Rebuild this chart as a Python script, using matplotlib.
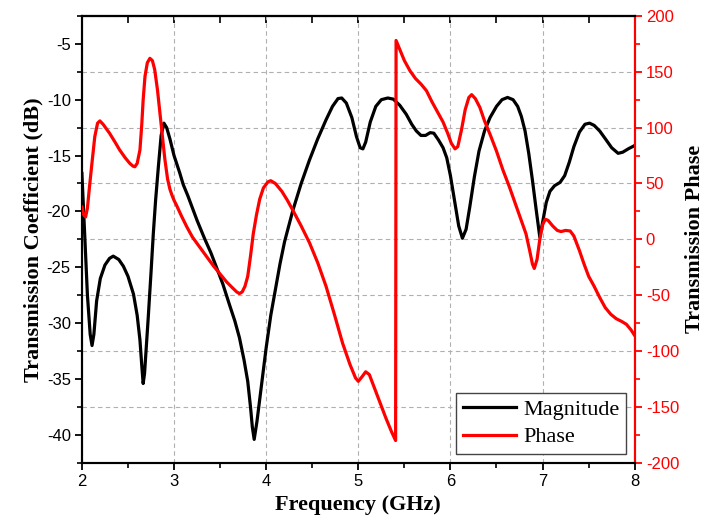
import numpy as np
import matplotlib
matplotlib.use("Agg")
import matplotlib.pyplot as plt
from matplotlib.ticker import MultipleLocator

plt.rcParams["axes.unicode_minus"] = False

# magnitude (dB)
freq_mag = [2.00, 2.03, 2.06, 2.09, 2.11, 2.13, 2.16, 2.20, 2.25, 2.30, 2.34, 2.40,
            2.45, 2.50, 2.56, 2.60, 2.63, 2.65, 2.665, 2.68, 2.70, 2.72, 2.75, 2.775,
            2.80, 2.83, 2.86, 2.89, 2.92, 2.955, 3.00, 3.06, 3.10, 3.15, 3.20, 3.25,
            3.33, 3.40, 3.47, 3.53, 3.60, 3.66, 3.71, 3.76, 3.80, 3.83, 3.85, 3.87,
            3.90, 3.95, 4.00, 4.05, 4.10, 4.15, 4.20, 4.29, 4.38, 4.47, 4.56, 4.65,
            4.72, 4.78, 4.82, 4.87, 4.93, 4.98, 5.02, 5.05, 5.08, 5.13, 5.19, 5.25,
            5.32, 5.38, 5.45, 5.52, 5.58, 5.63, 5.68, 5.73, 5.78, 5.82, 5.87, 5.92,
            5.96, 6.00, 6.05, 6.09, 6.13, 6.17, 6.21, 6.26, 6.31, 6.37, 6.43, 6.50,
            6.56, 6.62, 6.68, 6.73, 6.77, 6.81, 6.85, 6.89, 6.93, 6.97, 7.00, 7.04,
            7.08, 7.13, 7.19, 7.24, 7.29, 7.34, 7.40, 7.46, 7.51, 7.56, 7.62, 7.69,
            7.75, 7.82, 7.87, 7.93, 8.00]
magnitude = [-16.6, -22.0, -27.5, -31.0, -32.0, -31.0, -28.0, -26.0, -24.8, -24.2, -24.0, -24.3,
             -24.9, -25.8, -27.4, -29.3, -31.5, -33.8, -35.4, -34.5, -32.0, -29.5, -25.5, -22.0,
             -19.0, -16.0, -13.2, -12.1, -12.5, -13.5, -15.0, -16.5, -17.6, -18.6, -19.7, -20.8,
             -22.4, -23.7, -25.2, -26.5, -28.3, -29.8, -31.3, -33.3, -35.2, -37.5, -39.3, -40.4,
             -38.8, -35.5, -32.2, -29.3, -27.0, -24.7, -22.7, -19.9, -17.5, -15.4, -13.5, -11.8,
             -10.6, -9.9, -9.85, -10.3, -11.6, -13.3, -14.3, -14.4, -13.8, -12.0, -10.6, -10.0,
             -9.85, -9.95, -10.5, -11.3, -12.2, -12.8, -13.2, -13.2, -12.95, -13.0, -13.6, -14.3,
             -15.2, -16.8, -19.3, -21.3, -22.4, -21.6, -19.6, -16.9, -14.6, -12.8, -11.6, -10.6,
             -10.0, -9.8, -10.0, -10.6, -11.5, -12.8, -14.8, -17.2, -19.8, -22.3, -21.0, -19.2,
             -18.2, -17.7, -17.4, -16.8, -15.6, -14.2, -12.9, -12.2, -12.1, -12.3, -12.8, -13.6,
             -14.3, -14.8, -14.7, -14.4, -14.1]

# phase (deg)
freq_ph = [2.00, 2.02, 2.04, 2.06, 2.08, 2.105, 2.14, 2.17, 2.195, 2.23, 2.30, 2.36,
           2.41, 2.47, 2.52, 2.555, 2.575, 2.60, 2.63, 2.65, 2.665, 2.685, 2.71, 2.738,
           2.765, 2.79, 2.82, 2.846, 2.87, 2.90, 2.93, 2.955, 2.98, 3.00, 3.03, 3.08, 3.14,
           3.20, 3.27, 3.35, 3.43, 3.50, 3.57, 3.63, 3.68, 3.71, 3.74, 3.77, 3.80,
           3.83, 3.86, 3.895, 3.93, 3.97, 4.02, 4.05, 4.10, 4.17, 4.23, 4.29, 4.38,
           4.47, 4.56, 4.65, 4.74, 4.83, 4.91, 4.97, 5.00, 5.04, 5.08, 5.12, 5.18,
           5.23, 5.30, 5.36, 5.405, 5.41, 5.45, 5.50, 5.56, 5.62, 5.68, 5.74, 5.80,
           5.86, 5.92, 5.97, 6.01, 6.05, 6.08, 6.12, 6.16, 6.20, 6.23, 6.27, 6.32,
           6.37, 6.43, 6.50, 6.57, 6.64, 6.70, 6.76, 6.82, 6.86, 6.89, 6.91, 6.94,
           6.97, 7.00, 7.03, 7.06, 7.11, 7.16, 7.20, 7.25, 7.30, 7.34, 7.40, 7.45,
           7.50, 7.56, 7.62, 7.68, 7.74, 7.80, 7.86, 7.91, 7.96, 8.00]
phase = [29, 22, 20, 28, 45, 65, 92, 104, 106, 103, 95, 87,
         80, 73, 68, 65.5, 65, 68, 80, 103, 125, 146, 158, 162,
         160, 152, 134, 114, 95, 72, 54, 45, 39, 35, 30, 21, 11,
         2, -6, -15, -24, -31, -38, -43, -47, -48.5, -47, -42, -33,
         -15, 5, 22, 36, 46, 51.5, 52.5, 50, 43, 35, 26, 12,
         -3, -21, -42, -67, -93, -112, -124, -127, -123, -118.5, -121, -134,
         -145, -160, -172, -180, 178, 170, 160, 151, 144, 139, 133, 123,
         114, 105, 95, 86, 81, 83, 98, 116, 127, 129.5, 126, 118,
         106, 94, 79, 62, 47, 33, 19, 5, -10, -22, -26, -18,
         0, 13, 18, 17, 12, 8, 7, 8, 7.5, 3, -10, -22,
         -33, -42, -52, -61, -67, -71, -73.5, -76, -81, -86]

serif = ["Liberation Serif", "DejaVu Serif"]
sans = ["Liberation Sans", "DejaVu Sans"]

fig = plt.figure(figsize=(7.06, 5.29), dpi=100)
ax = fig.add_axes([0.116, 0.125, 0.783, 0.845])
ax2 = ax.twinx()

l1, = ax.plot(freq_mag, magnitude, color="black", lw=2.3, label="Magnitude", zorder=3)
l2, = ax2.plot(freq_ph, phase, color="red", lw=2.3, label="Phase", zorder=3)

ax.set_xlim(2, 8)
ax.set_ylim(-42.5, -2.5)
ax2.set_ylim(-200, 200)

ax.xaxis.set_major_locator(MultipleLocator(1))
ax.xaxis.set_minor_locator(MultipleLocator(0.5))
ax.yaxis.set_major_locator(MultipleLocator(5))
ax.yaxis.set_minor_locator(MultipleLocator(2.5))
ax2.yaxis.set_major_locator(MultipleLocator(50))
ax2.yaxis.set_minor_locator(MultipleLocator(25))

ax.grid(True, which="major", axis="x", ls=(0, (4, 3)), color="#b0b0b0", lw=0.8, zorder=0)
ax.grid(True, which="minor", axis="y", ls=(0, (4, 3)), color="#b0b0b0", lw=0.8, zorder=0)
ax.set_axisbelow(True)

for a in (ax, ax2):
    for s in a.spines.values():
        s.set_linewidth(1.5)
ax2.spines["right"].set_color("red")

ax.tick_params(axis="both", which="major", direction="out", length=5, width=1.3,
               labelsize=12, pad=3)
ax.tick_params(axis="both", which="minor", direction="out", length=3.5, width=1.2)
ax2.tick_params(axis="y", which="major", direction="out", length=5, width=1.3,
                labelsize=12, colors="red", pad=3)
ax2.tick_params(axis="y", which="minor", direction="out", length=3.5, width=1.2, colors="red")

top = ax.secondary_xaxis("top")
top.xaxis.set_major_locator(MultipleLocator(1))
top.xaxis.set_minor_locator(MultipleLocator(0.5))
top.tick_params(which="major", direction="in", length=5, width=1.3, labeltop=False)
top.tick_params(which="minor", direction="in", length=5, width=1.2)
top.spines["top"].set_linewidth(1.5)

for lab in ax.get_xticklabels() + ax.get_yticklabels() + ax2.get_yticklabels():
    lab.set_family(sans)

ax.set_xlabel("Frequency (GHz)", family=serif, fontweight="bold", fontsize=16, labelpad=4)
ax.set_ylabel("Transmission Coefficient (dB)", family=serif, fontweight="bold",
              fontsize=16, labelpad=2)
ax2.set_ylabel("Transmission Phase", family=serif, fontweight="bold", fontsize=16,
               labelpad=4)

leg = ax2.legend(handles=[l1, l2], loc="lower right", prop={"family": serif, "size": 16},
                 fancybox=False, framealpha=1, edgecolor="#444444", handlelength=2.4,
                 labelspacing=0.3, borderpad=0.3, handletextpad=0.3, borderaxespad=0.4)
leg.get_frame().set_linewidth(1.0)

fig.savefig("out.png", dpi=100)
